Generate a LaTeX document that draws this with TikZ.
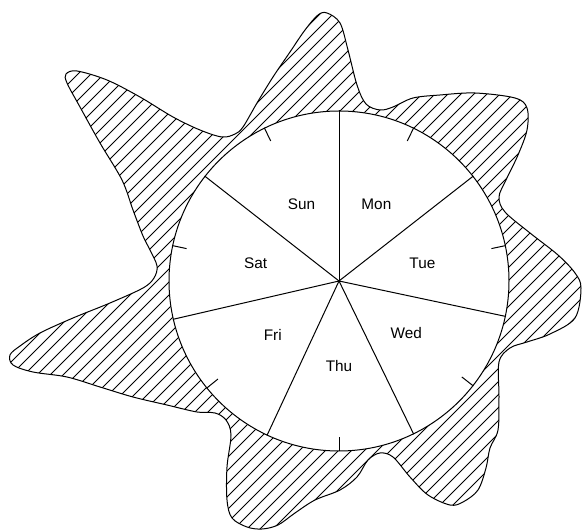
\documentclass[tikz,border=0pt]{standalone}
\usepackage{fontspec}
\setmainfont{Liberation Sans}
\usetikzlibrary{calc}

\begin{document}
\begin{tikzpicture}[
    x=0.75pt,y=-0.75pt,
    blob/.style={draw=black,line width=0.75pt},
    hatchline/.style={black,line width=0.6pt},
    dial/.style={circle,draw=black,fill=white,line width=0.75pt,
                 minimum size=255pt,inner sep=0pt},
    rim/.style={black,line width=0.75pt},
    daylbl/.style={font=\fontsize{11.5}{13}\selectfont,inner sep=0pt}]
  \useasboundingbox (0,0) rectangle (582,530);
  % hatched wavy region
  \draw[blob,path picture={
      \foreach \k in {-624,-611,...,540}
        \draw[hatchline] (\k,620) -- ++(720,-720);}]
    plot[smooth cycle,tension=0.55] coordinates {
      (327,13) (340,23) (348,50) (357,85) (366,104) (380,110) (393,107)
      (413,98) (440,95) (475,93) (515,98) (527,108) (527,130) (518,155)
      (506,180) (499,197) (505,212) (530,233) (558,255) (575,273)
      (581,288) (575,318) (550,334) (527,342) (510,348) (499,362)
      (499,397) (498,430) (490,448) (486,468) (478,490) (463,502)
      (450,505) (428,495) (410,477) (393,457) (380,453) (368,460)
      (357,477) (340,490) (315,500) (295,513) (278,525) (262,529)
      (247,527) (232,518) (227,500) (227,467) (231,435) (226,420)
      (215,413) (197,412) (167,405) (133,397) (100,387) (67,377)
      (33,372) (13,365) (10,355) (20,346) (40,333) (73,318) (110,303)
      (143,288) (154,278) (157,266) (150,250) (143,236) (133,210)
      (122,180) (100,143) (80,107) (67,83) (66,74) (77,71) (107,80)
      (140,97) (173,117) (200,130) (222,137) (235,134) (243,127)
      (257,103) (273,77) (290,52) (305,30) (318,15)};
  % dial
  \node[dial] (dial) at (339,281) {};
  \foreach \i in {0,...,6}
    \draw[rim] (dial.center) -- (dial.{90-\i*360/7});
  \foreach \i in {0,...,6}
    \draw[rim] (dial.{90-(\i+0.5)*360/7})
      -- ($(dial.{90-(\i+0.5)*360/7})!11pt!(dial.center)$);
  \foreach \d [count=\i from 0] in {Mon,Tue,Wed,Thu,Fri,Sat,Sun}
    \node[daylbl] (\d) at ($(dial.center)!0.5!(dial.{90-(\i+0.5)*360/7})$) {\d};
\end{tikzpicture}
\end{document}
